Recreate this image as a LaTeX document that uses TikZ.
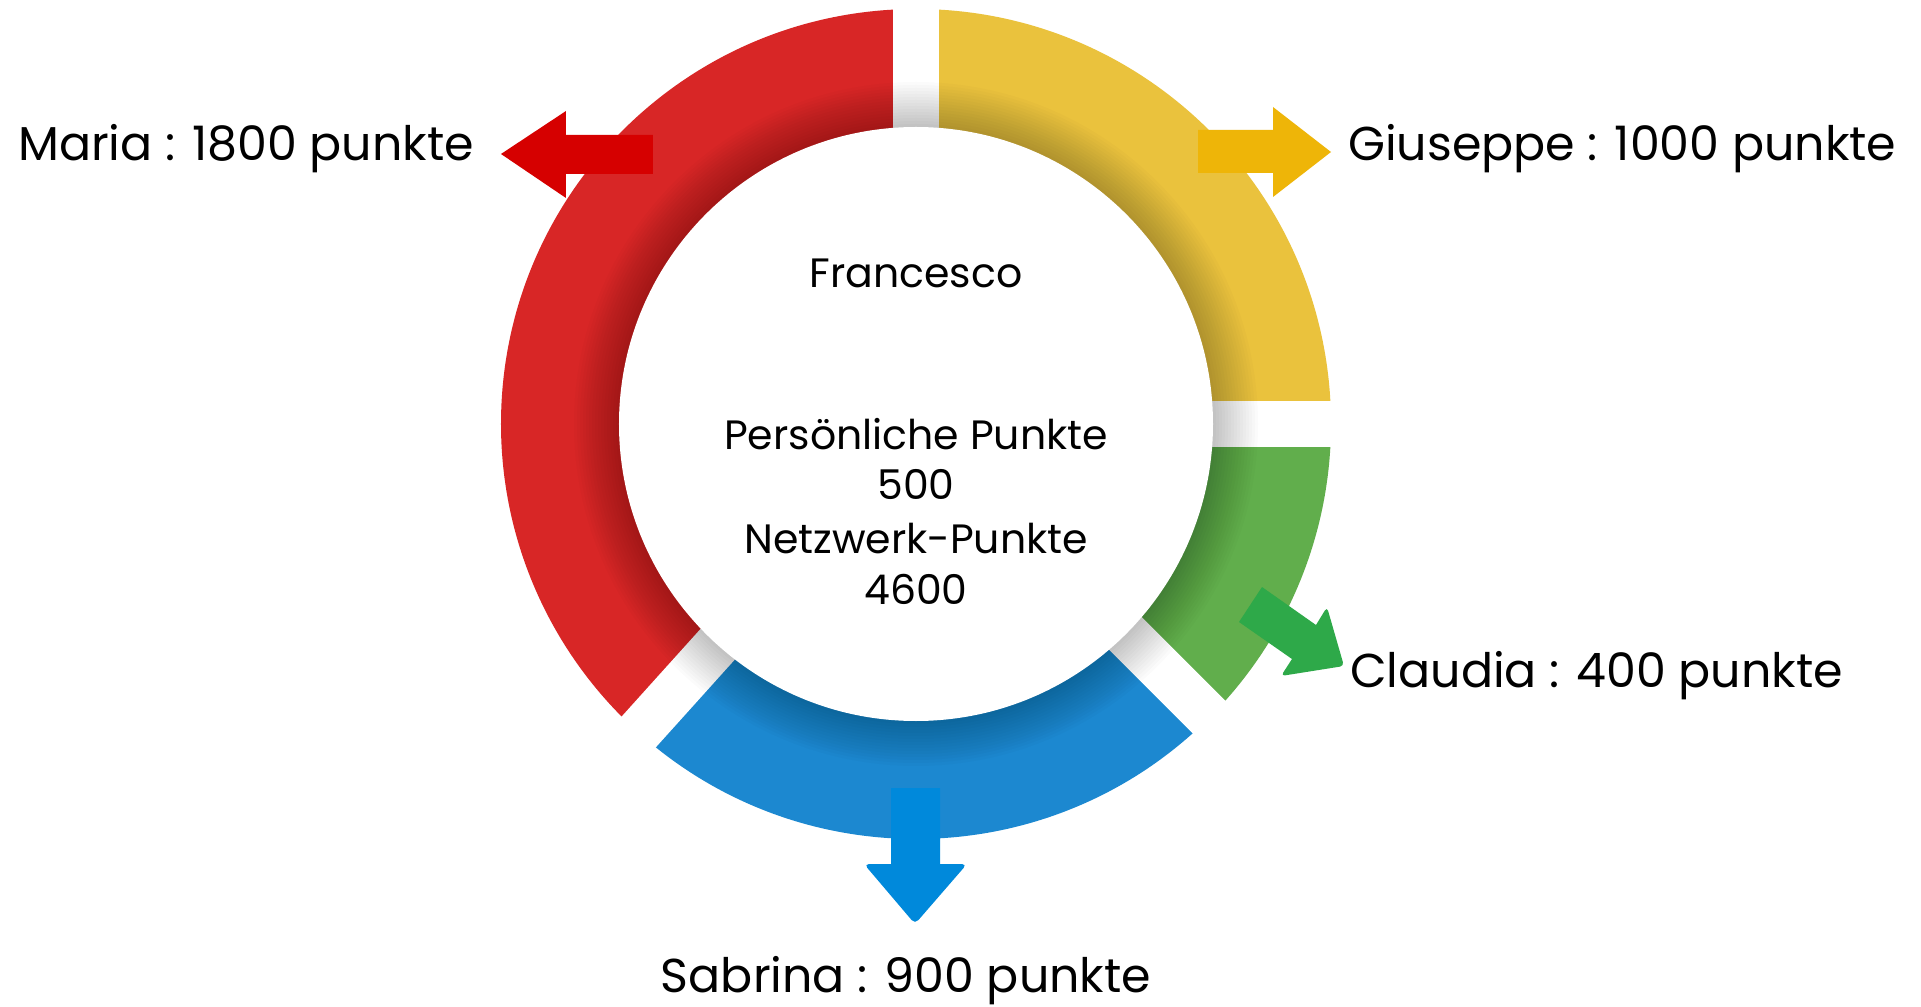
\documentclass[tikz,border=0pt]{standalone}
\usepackage{fontspec}
\setmainfont{Poppins}
\definecolor{ringred}{HTML}{D82626}
\definecolor{ringyellow}{HTML}{EAC23D}
\definecolor{ringgreen}{HTML}{61AE4C}
\definecolor{ringblue}{HTML}{1C88D0}
\definecolor{arrred}{HTML}{D60000}
\definecolor{arryellow}{HTML}{EEB508}
\definecolor{arrgreen}{HTML}{2EA949}
\definecolor{arrblue}{HTML}{0089DB}
\begin{document}
\begin{tikzpicture}[x=1pt,y=1pt,
  namelabel/.style={inner sep=0pt, font=\fontsize{47.5}{56}\selectfont, anchor=base west},
  centertext/.style={inner sep=0pt, font=\fontsize{41}{49}\selectfont, anchor=base}]
\useasboundingbox[fill=white] (-916,-582) rectangle (1005,424);
% ring segments
\fill[ringred] (0,0) -- (90:415) arc[start angle=90,end angle=228,radius=415] -- cycle;
\fill[ringblue] (0,0) -- (228:415) arc[start angle=228,end angle=315,radius=415] -- cycle;
\fill[ringgreen] (0,0) -- (315:415) arc[start angle=315,end angle=360,radius=415] -- cycle;
\fill[ringyellow] (0,0) -- (0:415) arc[start angle=0,end angle=90,radius=415] -- cycle;
% gaps
\foreach \a in {90,0,228,315} \fill[white,rotate=\a] (0,-23) rectangle (430,23);
% inner shadow
\foreach \i in {0,...,15} \fill[black,opacity=0.014] (0,0) circle [radius=297+3*\i];
% centre disc
\fill[white] (0,0) circle [radius=297];
% arrows
\fill[arrred] (-263,289) -- (-350,289) -- (-350,313) -- (-415,270) -- (-350,226) -- (-350,250) -- (-263,250) -- cycle;
\fill[arryellow] (282,294) -- (357,294) -- (357,317) -- (415,272) -- (357,227) -- (357,251) -- (282,251) -- cycle;
\fill[arrblue] (-25,-364) -- (24,-364) -- (24,-440) [rounded corners=5pt] -- (51,-440) -- (-1,-500) -- (-52,-440) [sharp corners] -- (-25,-440) -- cycle;
\fill[arrgreen] (346,-163) -- (400,-201) [rounded corners=4pt] -- (411,-183) -- (428,-242) -- (365,-252) [sharp corners] -- (376,-235) -- (323,-198) -- cycle;
% labels
\node[namelabel] (maria) at (-898,263) {Maria : 1800 punkte};
\node[namelabel] (giuseppe) at (432,263) {Giuseppe : 1000 punkte};
\node[namelabel] (claudia) at (434,-263) {Claudia : 400 punkte};
\node[namelabel,anchor=base] (sabrina) at (-10,-568) {Sabrina : 900 punkte};
% centre text
\node[centertext] (francesco) at (0,136) {Francesco};
\node[centertext] (perstitle) at (0,-26) {Persönliche Punkte};
\node[centertext] (persval) at (0,-76) {500};
\node[centertext] (nettitle) at (0,-129) {Netzwerk-Punkte};
\node[centertext] (netval) at (0,-180) {4600};
\end{tikzpicture}
\end{document}
